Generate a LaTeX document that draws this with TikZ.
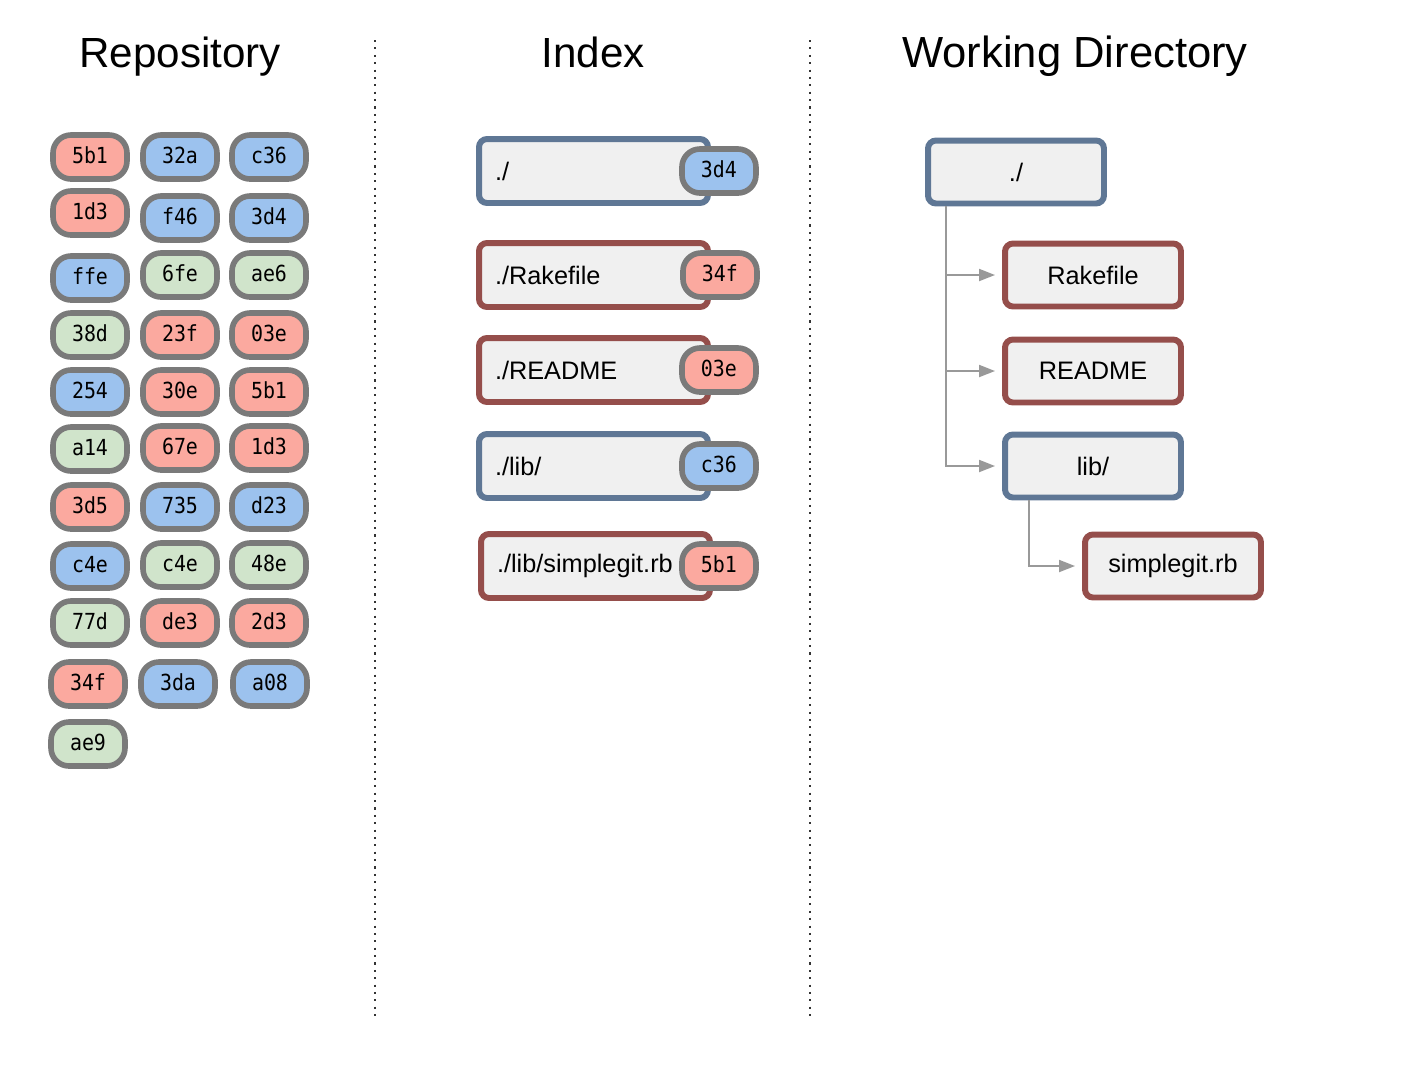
\documentclass[tikz,border=0pt]{standalone}
\usepackage{fontspec}
\setmainfont{Liberation Sans}
\newfontfamily\hashfont[FakeStretch=0.9]{DejaVu Sans Mono}
\usepackage{xcolor}
\definecolor{HashRed}{HTML}{FBA99F}
\definecolor{HashBlue}{HTML}{9CC2EE}
\definecolor{HashGreen}{HTML}{D0E4CB}
\definecolor{PillBorder}{HTML}{7A7A7A}
\definecolor{TreeBlue}{HTML}{5F7795}
\definecolor{BlobRed}{HTML}{954E4B}
\definecolor{BoxFill}{HTML}{F0F0F0}
\definecolor{LinkGray}{HTML}{999999}
\usetikzlibrary{arrows.meta, positioning, calc}

\begin{document}
\begin{tikzpicture}[
  x=0.02cm, y=-0.02cm,
  % Grundstile
  hashpill/.style={
    draw=PillBorder,
    line width=3.2pt,
    fill=#1,
    rounded corners=0.36cm,
    minimum width=1.48cm,
    minimum height=0.88cm,
    inner sep=0pt,
    text height=0.7em,
    text depth=0pt,
    font=\hashfont\fontsize{12.6}{15}\selectfont
  },
  hashpill/.default=HashBlue,
  indexbox/.style={
    draw=#1,
    line width=3.4pt,
    fill=BoxFill,
    rounded corners=0.16cm,
    text width=3.94cm,
    inner xsep=0.32cm,
    align=left,
    minimum height=1.28cm,
    font=\fontsize{14.4}{17}\selectfont
  },
  treebox/.style={
    draw=#1,
    line width=3.4pt,
    fill=BoxFill,
    rounded corners=0.16cm,
    minimum width=3.52cm,
    minimum height=1.26cm,
    font=\fontsize{14.4}{17}\selectfont
  },
  title/.style={
    anchor=base,
    font=\fontsize{24}{28}\selectfont
  },
  divider/.style={
    draw=black!80,
    line width=1.1pt,
    dash pattern=on 1.2pt off 3pt
  },
  treelink/.style={
    draw=LinkGray,
    line width=1.1pt,
    -{Triangle[length=0.32cm, width=0.24cm]},
    shorten >=0.14cm
  }
]

% =============================================================================
% RAHMEN UND TRENNLINIEN
% =============================================================================
\useasboundingbox (0,0) rectangle (1422,1066);
\draw[divider] (375,40) -- (375,1020);
\draw[divider] (810,40) -- (810,1020);

\node[title] (titlerepo) at (180,67) {Repository};
\node[title] (titleindex) at (593,67) {Index};
\node[title, font=\fontsize{24.8}{28}\selectfont] (titlewd) at (1075,67) {Working Directory};

% =============================================================================
% LINKS: Repository (Objekte)
% =============================================================================
\foreach \x/\y/\c/\h [count=\n] in {
  90/157/HashRed/5b1, 180/157/HashBlue/32a, 269/157/HashBlue/c36,
  90/213/HashRed/1d3, 180/218/HashBlue/f46, 269/218/HashBlue/3d4,
  90/278/HashBlue/ffe, 180/275/HashGreen/6fe, 269/275/HashGreen/ae6,
  90/335/HashGreen/38d, 180/335/HashRed/23f, 269/335/HashRed/03e,
  90/392/HashBlue/254, 180/392/HashRed/30e, 269/392/HashRed/5b1,
  90/449/HashGreen/a14, 180/448/HashRed/67e, 269/448/HashRed/1d3,
  90/507/HashRed/3d5, 180/507/HashBlue/735, 269/507/HashBlue/d23,
  90/566/HashBlue/c4e, 180/565/HashGreen/c4e, 269/565/HashGreen/48e,
  90/623/HashGreen/77d, 180/623/HashRed/de3, 269/623/HashRed/2d3,
  88/684/HashRed/34f, 178/684/HashBlue/3da, 270/684/HashBlue/a08,
  88/744/HashGreen/ae9} {
  \node[hashpill=\c] (repo\n) at (\x,\y) {\h};
}

% =============================================================================
% MITTE: Index
% =============================================================================
\node[indexbox=TreeBlue] (ixroot) at (593.5,171) {./};
\node[hashpill=HashBlue] (ixrootsha) at ([xshift=0.16cm]ixroot.east) {3d4};

\node[indexbox=BlobRed] (ixrake) at (593.5,275) {./Rakefile};
\node[hashpill=HashRed] (ixrakesha) at ([xshift=0.18cm]ixrake.east) {34f};

\node[indexbox=BlobRed] (ixreadme) at (593.5,370) {./README};
\node[hashpill=HashRed] (ixreadmesha) at ([xshift=0.16cm]ixreadme.east) {03e};

\node[indexbox=TreeBlue] (ixlib) at (593.5,466) {./lib/};
\node[hashpill=HashBlue] (ixlibsha) at ([xshift=0.16cm]ixlib.east) {c36};

\node[indexbox=BlobRed] (ixsimple) at (595.5,566) {./lib/simplegit.rb};
\node[hashpill=HashRed] (ixsimplesha) at ([xshift=0.12cm]ixsimple.east) {5b1};

% =============================================================================
% RECHTS: Working Directory (Baum)
% =============================================================================
\node[treebox=TreeBlue] (wdroot) at (1016,172) {./};
\node[treebox=BlobRed] (wdrake) at (1093,275) {Rakefile};
\node[treebox=BlobRed] (wdreadme) at (1093,371) {README};
\node[treebox=TreeBlue] (wdlib) at (1093,466) {lib/};
\node[treebox=BlobRed] (wdsimple) at (1173,566) {simplegit.rb};

% Verbindungen
\coordinate (trunk) at ([xshift=0.42cm]wdroot.south west);
\coordinate (libtrunk) at ([xshift=0.54cm]wdlib.south west);
\draw[treelink] (trunk) |- (wdrake.west);
\draw[treelink] (trunk) |- (wdreadme.west);
\draw[treelink] (trunk) |- (wdlib.west);
\draw[treelink] (libtrunk) |- (wdsimple.west);

\end{tikzpicture}
\end{document}
